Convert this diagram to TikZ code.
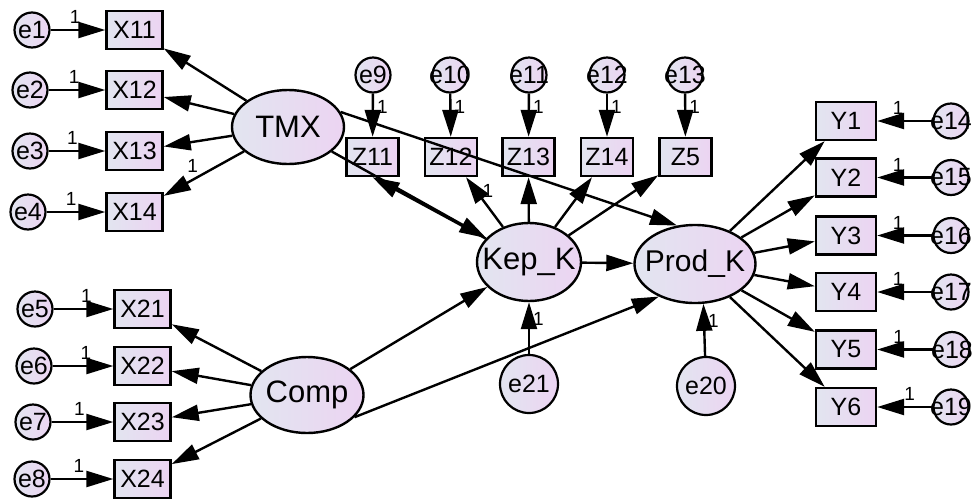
\documentclass[tikz,border=0pt]{standalone}
\usepackage{fontspec}
\setmainfont{Liberation Sans}
\usetikzlibrary{arrows.meta,shapes.geometric}
\definecolor{lavA}{RGB}{226,229,240}
\definecolor{lavB}{RGB}{236,212,242}
\definecolor{ink}{RGB}{0,0,0}
\newcommand\clab[1]{\makebox[0pt][c]{#1}}
\begin{document}
\begin{tikzpicture}[x=1pt,y=-1pt,
 arr/.style={-{Triangle[length=27pt,width=16pt]}, line width=2.4pt, draw=ink},
 lavfill/.style={left color=lavA, right color=lavB},
 obs/.style={draw=ink, line width=2.4pt, rectangle, lavfill, minimum width=56pt, minimum height=38pt, inner sep=0pt, font=\fontsize{25}{28}\selectfont},
 err/.style={draw=ink, line width=2.2pt, circle, lavfill, minimum size=35pt, inner sep=0pt, font=\fontsize{25}{28}\selectfont},
 bigerr/.style={err, minimum size=58pt},
 lat/.style={draw=ink, line width=2.4pt, ellipse, lavfill, inner sep=0pt, font=\fontsize{31}{34}\selectfont},
 one/.style={font=\fontsize{19}{20}\selectfont, inner sep=1pt}
]
\useasboundingbox (0,0) rectangle (975,499);

% left top block
\node[err] (e1) at (32,30) {\clab{e1}};
\node[err] (e2) at (30,90) {\clab{e2}};
\node[err] (e3) at (30,151) {\clab{e3}};
\node[err] (e4) at (28,212) {\clab{e4}};
\node[obs] (x11) at (134.5,30) {X11};
\node[obs] (x12) at (134.5,90) {X12};
\node[obs] (x13) at (134.5,151) {X13};
\node[obs] (x14) at (134.5,212) {X14};
\node[lat, minimum width=112pt, minimum height=74pt] (tmx) at (288,127) {\clab{TMX}};

% left bottom block
\node[err] (e5) at (35,309) {\clab{e5}};
\node[err] (e6) at (34,366) {\clab{e6}};
\node[err] (e7) at (33,422) {\clab{e7}};
\node[err] (e8) at (32,479) {\clab{e8}};
\node[obs] (x21) at (142.5,309) {X21};
\node[obs] (x22) at (142.5,366) {X22};
\node[obs] (x23) at (142.5,422) {X23};
\node[obs] (x24) at (142.5,479) {X24};
\node[lat, minimum width=113pt, minimum height=76pt] (comp) at (307,395) {\clab{Comp}};

% middle
\node[err] (e9) at (373,75) {\clab{e9}};
\node[err] (e10) at (450,75) {\clab{e10}};
\node[err] (e11) at (529,75) {\clab{e11}};
\node[err] (e12) at (607,75) {\clab{e12}};
\node[err] (e13) at (685,75) {\clab{e13}};
\node[obs, minimum width=52pt] (z11) at (372.5,157) {Z11};
\node[obs, minimum width=52pt] (z12) at (451,157) {Z12};
\node[obs, minimum width=52pt] (z13) at (528.5,157) {Z13};
\node[obs, minimum width=52pt] (z14) at (607,157) {Z14};
\node[obs, minimum width=52pt] (z5) at (685.5,157) {Z5};
\node[lat, minimum width=104pt, minimum height=78pt] (kep) at (529,262) {\clab{Kep\_K}};
\node[lat, minimum width=121pt, minimum height=78pt, font=\fontsize{30}{33}\selectfont] (prod) at (695,264) {\clab{Prod\_K}};
\node[bigerr] (e21) at (529,384) {\clab{e21}};
\node[bigerr] (e20) at (706,386) {\clab{e20}};

% right block
\node[obs, minimum width=60pt] (y1) at (846,121) {Y1};
\node[obs, minimum width=60pt] (y2) at (846,177.5) {Y2};
\node[obs, minimum width=60pt] (y3) at (846,235.5) {Y3};
\node[obs, minimum width=60pt] (y4) at (846,292) {Y4};
\node[obs, minimum width=60pt] (y5) at (846,349.5) {Y5};
\node[obs, minimum width=60pt] (y6) at (846,407) {Y6};
\node[err] (e14) at (951,121) {\clab{e14}};
\node[err] (e15) at (951,177.5) {\clab{e15}};
\node[err] (e16) at (951,235.5) {\clab{e16}};
\node[err] (e17) at (951,292) {\clab{e17}};
\node[err] (e18) at (952,349.5) {\clab{e18}};
\node[err] (e19) at (951,407) {\clab{e19}};

% error arrows, left
\draw[arr] (e1) -- node[one, pos=0.45, above=4pt]{1} (x11);
\draw[arr] (e2) -- node[one, pos=0.45, above=4pt]{1} (x12);
\draw[arr] (e3) -- node[one, pos=0.42, above=4pt]{1} (x13);
\draw[arr] (e4) -- node[one, pos=0.42, above=4pt]{1} (x14);
\draw[arr] (e5) -- node[one, pos=0.55, above=4pt]{1} (x21);
\draw[arr] (e6) -- node[one, pos=0.55, above=4pt]{1} (x22);
\draw[arr] (e7) -- node[one, pos=0.45, above=4pt]{1} (x23);
\draw[arr] (e8) -- node[one, pos=0.45, above=4pt]{1} (x24);

% loadings TMX, Comp
\draw[arr] (tmx) -- (x11);
\draw[arr] (tmx) -- (x12);
\draw[arr] (tmx) -- (x13);
\draw[arr] (tmx) -- node[one, pos=0.64, above=5pt]{1} (x14);
\draw[arr] (comp) -- (x21);
\draw[arr] (comp) -- (x22);
\draw[arr] (comp) -- (x23);
\draw[arr] (comp) -- (x24);

% Z block
\draw[arr] (e9) -- node[one, pos=0.3, right=2pt]{1} (z11);
\draw[arr] (e10) -- node[one, pos=0.3, right=2pt]{1} (z12);
\draw[arr] (e11) -- node[one, pos=0.3, right=2pt]{1} (z13);
\draw[arr] (e12) -- node[one, pos=0.3, right=2pt]{1} (z14);
\draw[arr] (e13) -- node[one, pos=0.3, right=2pt]{1} (z5);
\draw[arr] (kep) -- (z11.south);
\draw[arr] (kep) -- node[one, pos=0.72, right=4pt]{1} (z12);
\draw[arr] (kep) -- (z13);
\draw[arr] (kep) -- (z14);
\draw[arr] (kep) -- (z5);

% structural paths
\draw[arr] (tmx) -- (kep);
\draw[arr] (tmx.16) -- (prod.115);
\draw[arr] (comp) -- (kep);
\draw[arr] (comp.-25) -- (prod.-138);
\draw[arr] (kep) -- (prod);
\draw[arr] (e21) -- node[one, pos=0.68, right=2pt]{1} (kep);
\draw[arr] (e20) -- node[one, pos=0.68, right=2pt]{1} (prod.-78);

% Prod loadings
\draw[arr] (prod) -- (y1);
\draw[arr] (prod) -- (y2);
\draw[arr] (prod) -- (y3);
\draw[arr] (prod) -- (y4);
\draw[arr] (prod) -- (y5);
\draw[arr] (prod) -- (y6);

% error arrows, right
\draw[arr] (e14) -- node[one, pos=0.62, above=4pt]{1} (y1);
\draw[arr] (e15) -- node[one, pos=0.62, above=4pt]{1} (y2);
\draw[arr] (e16) -- node[one, pos=0.62, above=4pt]{1} (y3);
\draw[arr] (e17) -- node[one, pos=0.62, above=4pt]{1} (y4);
\draw[arr] (e18) -- node[one, pos=0.62, above=4pt]{1} (y5);
\draw[arr] (e19) -- node[one, pos=0.41, above=4pt]{1} (y6);
\end{tikzpicture}
\end{document}
